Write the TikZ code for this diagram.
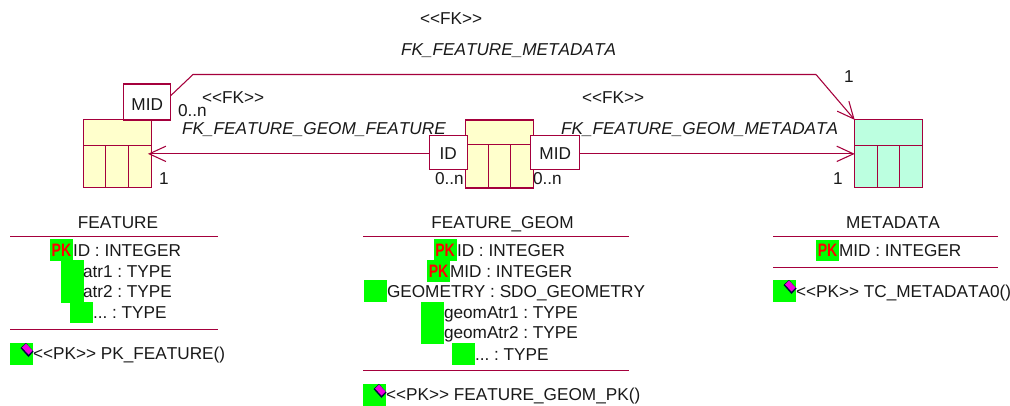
\documentclass[tikz,border=0pt]{standalone}
\usepackage{fontspec}
\usetikzlibrary{arrows.meta,calc}
\newfontfamily\arialf[Kerning=Off]{Liberation Sans}
\frenchspacing
\definecolor{umlline}{HTML}{A5003C}
\definecolor{tblyellow}{HTML}{FFFFCC}
\definecolor{tblmint}{HTML}{BCFFE0}
\definecolor{hlgreen}{HTML}{00FF00}
\definecolor{keyicon}{HTML}{F000E0}
\tikzset{
  x=0.75pt,y=-0.75pt,
  every node/.style={font=\arialf\fontsize{12.9}{14}\selectfont,text=black!90,inner sep=0pt,outer sep=0pt},
  txt/.style={anchor=base west},
  mid/.style={anchor=base},
  ital/.style={anchor=base west,font=\arialf\itshape\fontsize{12.9}{14}\selectfont},
  tablebox/.style={draw=umlline,line width=0.8pt,minimum width=51pt,minimum height=51pt,anchor=center},
  keybox/.style={draw=umlline,line width=0.8pt,fill=white,minimum height=25.7pt,anchor=center,text depth=0pt,text height=11.3pt},
  assoc/.style={draw=umlline,line width=0.8pt},
  head/.style={-{Straight Barb[length=12.5pt,width=11.5pt,line width=0.8pt]}},
  grid/.style={draw=umlline,line width=0.7pt},
  rulef/.style={draw=umlline,line width=0.7pt},
  pk/.style={anchor=center,text=red,font=\arialf\bfseries\fontsize{13.5}{14}\selectfont,xscale=0.78},
}
% \hlbox{x}{y}: green square with top-left corner at x,y
\newcommand\hlbox[2]{\fill[hlgreen] (#1,#2) rectangle ++(23,21.5);}
% \keyic{x}{y}: key icon with right/top anchor
\newcommand\keyic[2]{%
  \fill[black!75!blue] (#1+5.5,#2) -- (#1+13,#2+8.5) -- (#1+8,#2+14) -- (#1,#2+5) -- cycle;
  \fill[keyicon] (#1+5.5,#2+0.5) -- (#1+12,#2+7.5) -- (#1+8,#2+11.5) -- (#1+1.5,#2+4.5) -- cycle;}
\begin{document}
\begin{tikzpicture}
\useasboundingbox (0,0) rectangle (1010,405);
\fill[white] (0,0) rectangle (1010,405);

% tables
\node[tablebox,fill=tblyellow,minimum width=51pt] (feat) at (117.3,153.85) {};
\node[tablebox,fill=tblyellow] (geom) at (499.3,154) {};
\node[tablebox,fill=tblmint] (meta) at (888.7,153.85) {};
\draw[grid] (feat.west |- 0,145) -- (feat.east |- 0,145) (105.7,145) -- (105.7,187.7) (128,145) -- (128,187.7);
\draw[grid] (geom.west |- 0,144.5) -- (geom.east |- 0,144.5) (488,144.5) -- (488,188) (510.3,144.5) -- (510.3,188);
\draw[grid] (meta.west |- 0,145) -- (meta.east |- 0,145) (877,145) -- (877,187.7) (899,145) -- (899,187.7);

% key boxes
\node[keybox,minimum width=35.5pt,minimum height=27pt,text height=13.3pt] (midA) at (147.2,102) {MID};
\node[keybox,minimum width=28.5pt] (idB) at (448.3,152.3) {ID};
\node[keybox,minimum width=36.8pt] (midB) at (555.2,152.3) {MID};

% connectors
\coordinate (bendA) at (193,74.5);
\coordinate (bendB) at (816,74.5);
\draw[assoc] ($(midA.north east)+(0,11.5)$) -- (bendA) -- (bendB);
\draw[assoc,head] (bendB) -- (meta.north west);
\draw[assoc,head,shorten >=-2.5pt] (idB.west |- feat.east) -- (feat.east);
\draw[assoc,head] (midB.east |- meta.west) -- (meta.west);

% association labels
\node[txt] (fkTop) at (420,24) {<<FK>>};
\node[ital] (fkTopName) at (401,55) {FK\_FEATURE\_METADATA};
\node[txt] (fkLeft) at (202,103) {<<FK>>};
\node[ital] (fkLeftName) at (182,134) {FK\_FEATURE\_GEOM\_FEATURE};
\node[txt] (fkRight) at (582,103) {<<FK>>};
\node[ital] (fkRightName) at (561,134) {FK\_FEATURE\_GEOM\_METADATA};
\node[txt] (mulA) at (178,116) {0..n};
\node[txt] (mulB) at (159,184) {1};
\node[txt] (mulC) at (435,184) {0..n};
\node[txt] (mulD) at (533,184) {0..n};
\node[txt] (mulE) at (844,82) {1};
\node[txt] (mulF) at (833,184) {1};

% FEATURE
\node[mid] (featT) at (118,228) {FEATURE};
\draw[rulef] (10,236) -- (218,236) (10,329) -- (218,329);
\hlbox{50}{239}\hlbox{61}{260}\hlbox{61}{281}\hlbox{70}{301.5}\hlbox{10}{343}
\node[pk] (featPk) at (61.5,250.5) {PK};
\node[txt] (featA) at (73,256) {ID : INTEGER};
\node[txt] (featB) at (83,277) {atr1 : TYPE};
\node[txt] (featC) at (83,297.5) {atr2 : TYPE};
\node[txt] (featD) at (93,318) {... : TYPE};
\keyic{20.5}{343}
\node[txt] (featM) at (33,359) {<<PK>> PK\_FEATURE()};

% FEATURE_GEOM
\node[mid] (geomT) at (502.5,228) {FEATURE\_GEOM};
\draw[rulef] (363,236.5) -- (629,236.5) (363,370.5) -- (629,370.5);
\hlbox{433.5}{239}\hlbox{427}{260}\hlbox{364}{280}\hlbox{421}{301.5}\hlbox{421}{322.5}\hlbox{451.5}{343}\hlbox{363}{384}
\node[pk] (geomPkA) at (445,250.5) {PK};
\node[pk] (geomPkB) at (438.5,271.5) {PK};
\node[txt] (geomA) at (457,256) {ID : INTEGER};
\node[txt] (geomB) at (450,277) {MID : INTEGER};
\node[txt] (geomC) at (387,297.5) {GEOMETRY : SDO\_GEOMETRY};
\node[txt] (geomD) at (444,318) {geomAtr1 : TYPE};
\node[txt] (geomE) at (444,338) {geomAtr2 : TYPE};
\node[txt] (geomF) at (475,360) {... : TYPE};
\keyic{373.5}{384}
\node[txt] (geomM) at (386,400.5) {<<PK>> FEATURE\_GEOM\_PK()};

% METADATA
\node[mid] (metaT) at (893,228) {METADATA};
\draw[rulef] (773,236) -- (998,236) (773,267) -- (998,267);
\hlbox{816}{239.5}\hlbox{773}{280}
\node[pk] (metaPk) at (827.5,250.5) {PK};
\node[txt] (metaA) at (839,256) {MID : INTEGER};
\keyic{783.5}{280}
\node[txt] (metaM) at (796,297) {<<PK>> TC\_METADATA0()};
\end{tikzpicture}
\end{document}
